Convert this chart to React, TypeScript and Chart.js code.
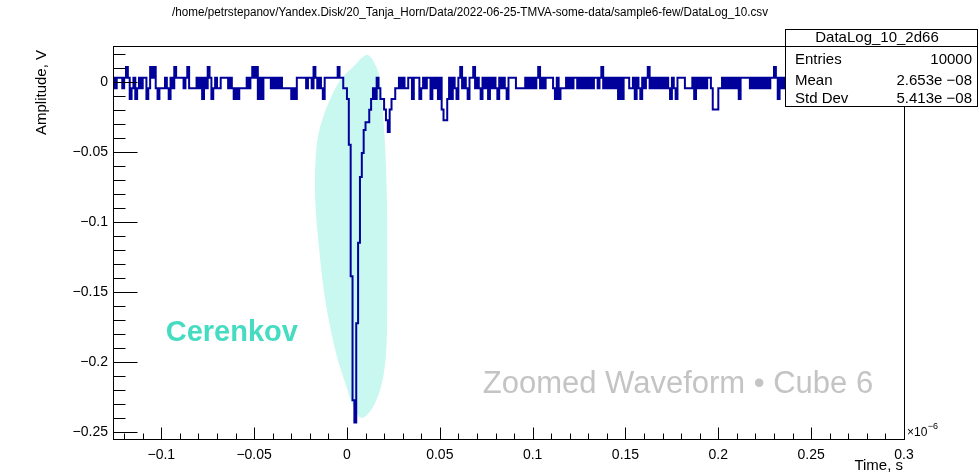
import React, { useEffect, useRef } from "react";
import { Chart, registerables } from "chart.js";

Chart.register(...registerables);

const FONT = "'Liberation Sans', Arial, Helvetica, sans-serif";

// ---- axes (time in units of 1e-6 s, amplitude in V) ----
const xRange = [-0.126, 0.3];
const yRange = [-0.2549, 0.0255];
const xMajorTicks = [-0.1, -0.05, 0, 0.05, 0.1, 0.15, 0.2, 0.25, 0.3];
const xTickLabels = ["\u22120.1", "\u22120.05", "0", "0.05", "0.1", "0.15", "0.2", "0.25", "0.3"];
const xMinorStep = 0.01;
const yMajorTicks = [-0.25, -0.2, -0.15, -0.1, -0.05, 0];
const yTickLabels = ["\u22120.25", "\u22120.2", "\u22120.15", "\u22120.1", "\u22120.05", "0"];
const yMinorStep = 0.01;

// ---- waveform histogram ----
const binStart = -0.126;
const binWidth = 0.001;
// ADC level codes: '3' = -0.0047 V, each code step = 0.0076 V
const adcStep = 0.0076;
const adcLevel3 = -0.0047;

const preNoiseCodes =
  "4344434542" +
  "3423434423" +
  "5453233343" +
  "2435444434" +
  "5333343424" +
  "3542343344" +
  "4434323233" +
  "3343454524" +
  "2444434343" +
  "4333332324" +
  "4444344354" +
  "3432444444" +
  "4544332";

const pulseValues = [
  -0.045, -0.139, -0.2275, -0.2435, -0.1725, -0.115, -0.068, -0.051, -0.0345, -0.029,
  -0.029, -0.02, -0.0123, -0.0047, -0.0123, 0.0029, -0.0047, -0.0123, -0.0123, -0.0199,
  -0.0275, -0.036, -0.0199, -0.0123, -0.0123,
];

const postNoiseCodes =
  "3343433" +
  "4424442" +
  "3434" +
  "4243424" +
  "1002" +
  "4243245343244534324342434324" +
  "3432444433333434343453434" +
  "44432423" +
  "33434344343434343443" +
  "453434343424" +
  "2444334243243453" +
  "434343434324324444333342434" +
  "3434431113" +
  "34343434342444443434343434344542434343" +
  "3434434343" +
  "4434343434" +
  "4343434434" +
  "3434434343" +
  "4434343434" +
  "43434344343";

// ---- texts ----
const plotTitle =
  "/home/petrstepanov/Yandex.Disk/20_Tanja_Horn/Data/2022-06-25-TMVA-some-data/sample6-few/DataLog_10.csv";
const xTitle = "Time, s";
const yTitle = "Amplitude, V";
const statsTitle = "DataLog_10_2d66";
const statsLabels = ["Entries", "Mean", "Std Dev"];
const statsValues = ["10000", "2.653e \u221208", "5.413e \u221208"];
const cerenkovLabel = "Cerenkov";
const cerenkovAt = [-0.062, -0.1795];
const captionLabel = "Zoomed Waveform \u2022 Cube 6";
const captionRightAt = [0.2834, -0.2166];

// highlighted region outline (data coordinates)
const highlightOutline = [
  [0.01077, 0.0191], [0.01578, 0.0107], [0.01793, -0.0011], [0.01955, -0.025],
  [0.02063, -0.0488], [0.02154, -0.0845], [0.0217, -0.1202], [0.0217, -0.1559],
  [0.02117, -0.1916], [0.01885, -0.2152], [0.01416, -0.2321], [0.00808, -0.2402],
  [0.00339, -0.2321], [-0.00092, -0.2152], [-0.0063, -0.1916], [-0.01169, -0.1559],
  [-0.01492, -0.1202], [-0.01707, -0.0845], [-0.01653, -0.0488], [-0.01276, -0.025],
  [-0.00469, -0.0011], [0.00339, 0.0107],
];

function buildPoints() {
  const amps: number[] = [];
  for (const c of preNoiseCodes) amps.push((Number(c) - 3) * adcStep + adcLevel3);
  for (const v of pulseValues) amps.push(v);
  for (const c of postNoiseCodes) amps.push((Number(c) - 3) * adcStep + adcLevel3);
  const pts = amps.map((v, i) => ({ x: binStart + i * binWidth, y: v }));
  pts.push({ x: binStart + amps.length * binWidth, y: amps[amps.length - 1] });
  return pts;
}

const decorPlugin = {
  id: "rootDecor",
  beforeDatasetsDraw(chart: any) {
    const { ctx } = chart;
    const xs = chart.scales.x;
    const ys = chart.scales.y;
    const pts = highlightOutline.map(([a, b]) => [xs.getPixelForValue(a), ys.getPixelForValue(b)]);
    const n = pts.length;
    ctx.save();
    ctx.beginPath();
    ctx.moveTo(pts[0][0], pts[0][1]);
    for (let i = 0; i < n; i++) {
      const p0 = pts[(i - 1 + n) % n];
      const p1 = pts[i];
      const p2 = pts[(i + 1) % n];
      const p3 = pts[(i + 2) % n];
      ctx.bezierCurveTo(
        p1[0] + (p2[0] - p0[0]) / 6,
        p1[1] + (p2[1] - p0[1]) / 6,
        p2[0] - (p3[0] - p1[0]) / 6,
        p2[1] - (p3[1] - p1[1]) / 6,
        p2[0],
        p2[1]
      );
    }
    ctx.closePath();
    ctx.fillStyle = "#c8f8f0";
    ctx.fill();
    ctx.restore();
  },
  afterDatasetsDraw(chart: any) {
    const { ctx, chartArea } = chart;
    const xs = chart.scales.x;
    const ys = chart.scales.y;
    const L = Math.round(chartArea.left) + 0.5;
    const R = Math.round(chartArea.right) + 0.5;
    const T = Math.round(chartArea.top) + 0.5;
    const B = Math.round(chartArea.bottom) + 0.5;
    ctx.save();
    ctx.strokeStyle = "#000";
    ctx.lineWidth = 1;
    ctx.beginPath();
    // y ticks (inside, left)
    for (let k = Math.ceil(yRange[0] / yMinorStep); k <= Math.floor(yRange[1] / yMinorStep); k++) {
      const v = k * yMinorStep;
      const major = Math.abs(k) % 5 === 0;
      const py = Math.round(ys.getPixelForValue(v)) + 0.5;
      ctx.moveTo(L, py);
      ctx.lineTo(L + (major ? 24 : 12), py);
    }
    // x ticks (inside, bottom)
    for (let k = Math.ceil(xRange[0] / xMinorStep); k <= Math.floor(xRange[1] / xMinorStep + 1e-9); k++) {
      const v = k * xMinorStep;
      const major = Math.abs(k) % 5 === 0;
      const px = Math.round(xs.getPixelForValue(v)) + 0.5;
      ctx.moveTo(px, B);
      ctx.lineTo(px, B - (major ? 12 : 6));
    }
    ctx.stroke();
    ctx.strokeRect(L, T, R - L, B - T);
    ctx.restore();
  },
  afterDraw(chart: any) {
    const { ctx, chartArea } = chart;
    const xs = chart.scales.x;
    const ys = chart.scales.y;
    ctx.save();
    ctx.fillStyle = "#000";

    // title, fitted to its width
    ctx.font = `12px ${FONT}`;
    ctx.textBaseline = "middle";
    ctx.textAlign = "center";
    const tw = ctx.measureText(plotTitle).width;
    ctx.save();
    ctx.translate(470, 13);
    ctx.scale(596 / tw, 1);
    ctx.fillText(plotTitle, 0, 0);
    ctx.restore();

    // axis titles
    ctx.font = `15px ${FONT}`;
    ctx.textAlign = "right";
    ctx.textBaseline = "middle";
    ctx.fillText(xTitle, chartArea.right - 1, 466);
    ctx.save();
    ctx.translate(42, chartArea.top + 4);
    ctx.rotate(-Math.PI / 2);
    ctx.textAlign = "right";
    ctx.fillText(yTitle, 0, 0);
    ctx.restore();

    // exponent
    ctx.textAlign = "left";
    ctx.font = `12px ${FONT}`;
    const ex = chartArea.right + 3;
    ctx.fillText("\u00d710", ex, chartArea.bottom - 6);
    const w10 = ctx.measureText("\u00d710").width;
    ctx.font = `9px ${FONT}`;
    ctx.fillText("\u22126", ex + w10 + 0.5, chartArea.bottom - 12);

    // annotations
    ctx.font = `bold 29px ${FONT}`;
    ctx.fillStyle = "#46dcc2";
    ctx.textAlign = "center";
    ctx.fillText(cerenkovLabel, xs.getPixelForValue(cerenkovAt[0]), ys.getPixelForValue(cerenkovAt[1]));
    ctx.font = `31px ${FONT}`;
    ctx.fillStyle = "#c4c4c4";
    ctx.textAlign = "right";
    ctx.fillText(captionLabel, xs.getPixelForValue(captionRightAt[0]), ys.getPixelForValue(captionRightAt[1]));

    // stats box
    const bx = 785.5, by = 29.5, bw = 192, bh = 77;
    ctx.fillStyle = "#fff";
    ctx.fillRect(bx, by, bw, bh);
    ctx.strokeStyle = "#000";
    ctx.lineWidth = 1;
    ctx.strokeRect(bx, by, bw, bh);
    ctx.beginPath();
    ctx.moveTo(bx, Math.round(chartArea.top) + 0.5);
    ctx.lineTo(bx + bw, Math.round(chartArea.top) + 0.5);
    ctx.stroke();
    ctx.fillStyle = "#000";
    ctx.font = `15px ${FONT}`;
    ctx.textAlign = "center";
    ctx.fillText(statsTitle, 877, 38);
    const rowsY = [60, 81, 99];
    statsLabels.forEach((lab, i) => {
      ctx.textAlign = "left";
      ctx.fillText(lab, 795, rowsY[i]);
      ctx.textAlign = "right";
      ctx.fillText(statsValues[i], 972, rowsY[i]);
    });
    ctx.restore();
  },
};

export default function App() {
  const ref = useRef<HTMLCanvasElement>(null);
  useEffect(() => {
    const canvas = ref.current;
    if (!canvas) return;
    const chart = new Chart(canvas, {
      type: "line",
      data: {
        datasets: [
          {
            data: buildPoints(),
            stepped: true,
            borderColor: "#00009a",
            borderWidth: 2,
            pointRadius: 0,
            fill: false,
            tension: 0,
          },
        ],
      },
      options: {
        responsive: false,
        devicePixelRatio: 1,
        animation: false,
        events: [],
        parsing: false,
        normalized: true,
        layout: { padding: { top: 46, right: 75, bottom: 0, left: 0 } },
        plugins: {
          legend: { display: false },
          tooltip: { enabled: false },
          title: { display: false },
        },
        scales: {
          x: {
            type: "linear",
            min: xRange[0],
            max: xRange[1],
            afterBuildTicks: (s: any) => {
              s.ticks = xMajorTicks.map((v) => ({ value: v }));
            },
            afterFit: (s: any) => {
              s.height = 36.5;
            },
            grid: { display: false, drawTicks: false },
            border: { display: false },
            ticks: {
              autoSkip: false,
              maxRotation: 0,
              minRotation: 0,
              padding: 8,
              color: "#000",
              font: { family: FONT, size: 14 },
              callback: (_v: any, i: number) => xTickLabels[i],
            },
          },
          y: {
            type: "linear",
            min: yRange[0],
            max: yRange[1],
            afterBuildTicks: (s: any) => {
              s.ticks = yMajorTicks.map((v) => ({ value: v }));
            },
            afterFit: (s: any) => {
              s.width = 113;
            },
            grid: { display: false, drawTicks: false },
            border: { display: false },
            ticks: {
              autoSkip: false,
              padding: 5,
              color: "#000",
              font: { family: FONT, size: 14 },
              callback: (_v: any, i: number) => yTickLabels[i],
            },
          },
        },
      },
      plugins: [decorPlugin],
    } as any);
    return () => chart.destroy();
  }, []);
  return (
    <div style={{ position: "absolute", left: 0, top: 0, width: 979, height: 475, background: "#fff" }}>
      <canvas ref={ref} width={979} height={475} style={{ display: "block", width: 979, height: 475 }} />
    </div>
  );
}
